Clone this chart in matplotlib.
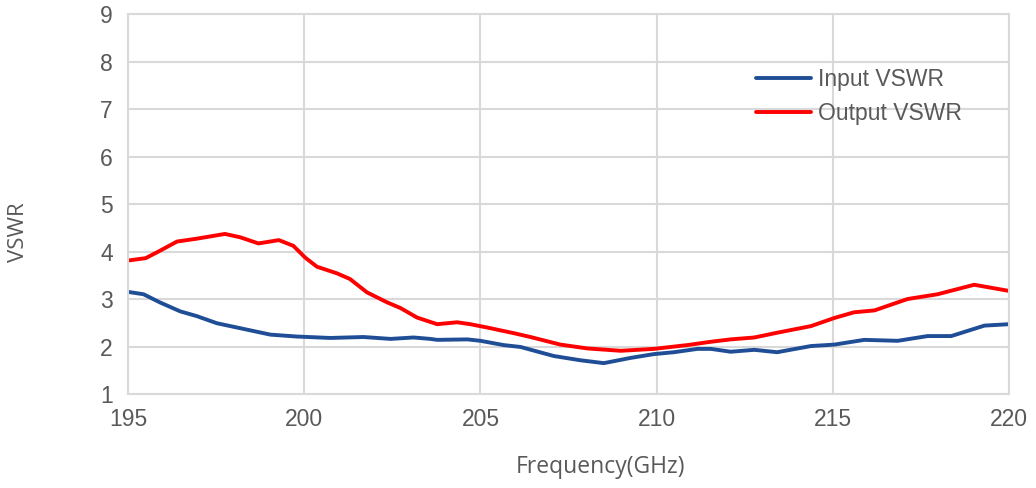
import numpy as np
import matplotlib.pyplot as plt

# values
freq_in = [195.0, 195.44, 195.90, 196.48, 196.95, 197.52, 198.28, 199.04, 199.79, 200.74,
           201.68, 202.45, 203.10, 203.58, 203.77, 204.63, 205.00, 205.66, 206.14, 207.08,
           207.84, 208.50, 209.26, 209.92, 210.49, 211.16, 211.54, 212.10, 212.77, 213.42,
           214.38, 215.04, 215.89, 216.84, 217.69, 218.36, 219.30, 220.0]
vswr_in = [3.15, 3.10, 2.93, 2.74, 2.64, 2.49, 2.37, 2.25, 2.21, 2.18,
           2.20, 2.16, 2.19, 2.16, 2.14, 2.15, 2.12, 2.03, 1.99, 1.80,
           1.71, 1.65, 1.76, 1.84, 1.88, 1.95, 1.95, 1.89, 1.93, 1.88,
           2.01, 2.04, 2.14, 2.12, 2.22, 2.22, 2.44, 2.47]

freq_out = [195.0, 195.50, 195.89, 196.39, 196.95, 197.75, 198.18, 198.70, 199.28, 199.69,
            200.03, 200.36, 200.93, 201.30, 201.78, 202.35, 202.73, 203.20, 203.77, 204.34,
            204.71, 205.19, 205.95, 206.42, 207.27, 208.03, 208.98, 209.92, 210.87, 211.54,
            212.10, 212.77, 213.42, 214.38, 215.04, 215.60, 216.18, 217.12, 217.97, 219.01,
            220.0]
vswr_out = [3.81, 3.86, 4.01, 4.21, 4.27, 4.37, 4.30, 4.17, 4.24, 4.12,
            3.87, 3.68, 3.54, 3.42, 3.14, 2.93, 2.81, 2.61, 2.47, 2.51,
            2.47, 2.40, 2.28, 2.20, 2.04, 1.96, 1.91, 1.95, 2.03, 2.10,
            2.15, 2.19, 2.29, 2.43, 2.60, 2.72, 2.76, 3.00, 3.10, 3.30,
            3.17]

xticks = [195, 200, 205, 210, 215, 220]
yticks = [1, 2, 3, 4, 5, 6, 7, 8, 9]

fig = plt.figure(figsize=(10.36, 4.88), dpi=100)
ax = fig.add_axes([0.1236, 0.1926, 0.8504, 0.7787])

ax.plot(freq_in, vswr_in, color='#1f4e96', lw=2.8, label='Input VSWR', solid_capstyle='round')
ax.plot(freq_out, vswr_out, color='#ff0000', lw=2.8, label='Output VSWR', solid_capstyle='round')

ax.set_xlim(195, 220)
ax.set_ylim(1, 9)
ax.set_xticks(xticks)
ax.set_yticks(yticks)
ax.grid(True, color='#d9d9d9', lw=1.5)
ax.set_axisbelow(True)
for s in ax.spines.values():
    s.set_color('#d9d9d9')
    s.set_linewidth(1.5)
ax.tick_params(length=0, labelsize=16.5, labelcolor='#595959')
ax.tick_params(axis='x', pad=10)
ax.tick_params(axis='y', pad=11)
for lab in ax.get_xticklabels() + ax.get_yticklabels():
    lab.set_fontfamily('Liberation Sans')

fig.text(601 / 1036, 1 - 467 / 488, 'Frequency(GHz)', fontsize=16.5, color='#595959',
         family='Open Sans', ha='center', va='center')
fig.text(19 / 1036, 1 - 232 / 488, 'VSWR', fontsize=16, color='#595959',
         family='Open Sans', ha='center', va='center', rotation=90)

leg = ax.legend(loc='upper left', bbox_to_anchor=(735 / 1036, 1 - 47 / 488),
                bbox_transform=fig.transFigure, frameon=False,
                prop={'family': 'Liberation Sans', 'size': 16.5}, handlelength=2.4,
                handletextpad=0.3, labelspacing=0.5)
for t in leg.get_texts():
    t.set_color('#595959')

fig.savefig('out.png', dpi=100)
